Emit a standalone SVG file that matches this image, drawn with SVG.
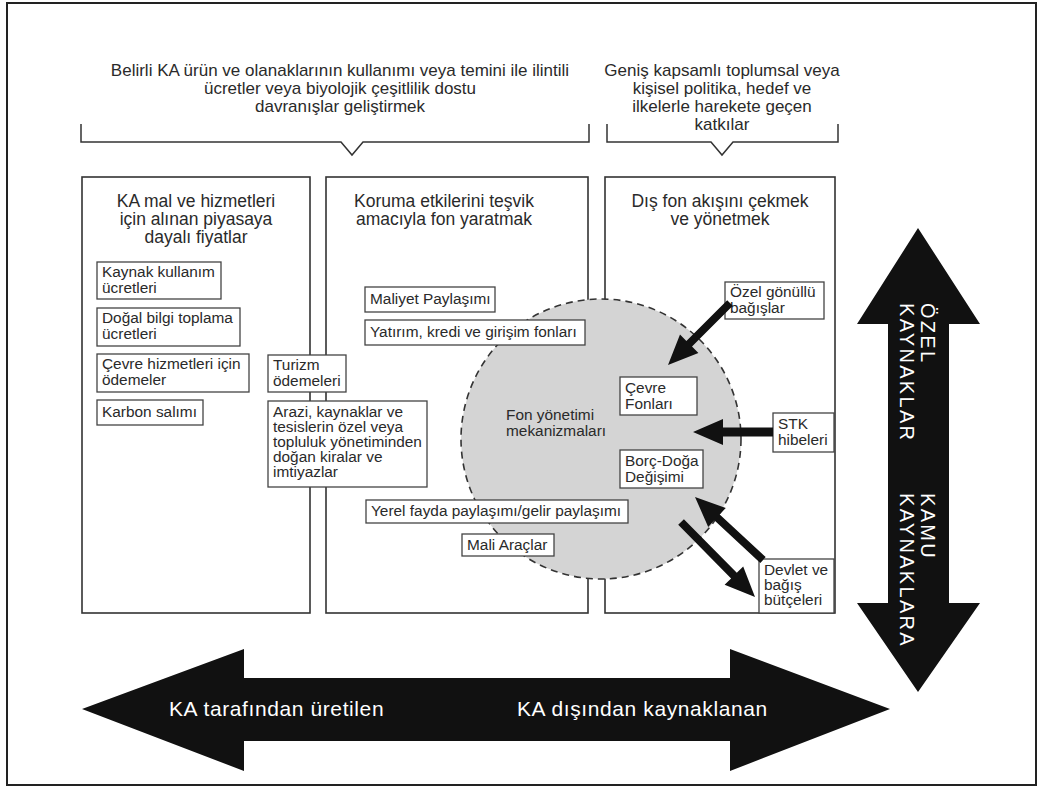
<svg xmlns="http://www.w3.org/2000/svg" width="1038" height="791" viewBox="0 0 1038 791">
<style>
text{font-family:"Liberation Sans",Arial,sans-serif;fill:#2a2a2a}
.top{font-size:17px;text-anchor:middle}
.ttl{font-size:17.5px;text-anchor:middle}
.bx{font-size:15.4px}
.col{fill:#fff;stroke:#333;stroke-width:1.6}
.box{fill:#fff;stroke:#444;stroke-width:1.3}
.brk{fill:none;stroke:#333;stroke-width:1.5}
.blk{fill:#111}
.wt{fill:#fff;font-size:21px;letter-spacing:0.6px}
.vt{fill:#fff;font-size:20px;letter-spacing:2.3px}
</style>
<rect x="7" y="3" width="1029" height="782" fill="#fff" stroke="#222" stroke-width="2"/>
<g id="header-left">
<text class="top" x="340" y="76">Belirli KA ürün ve olanaklarının kullanımı veya temini ile ilintili</text>
<text class="top" x="340" y="94">ücretler veya biyolojik çeşitlilik dostu</text>
<text class="top" x="340" y="112">davranışlar geliştirmek</text>
<path class="brk" d="M81,124 V142 H341 L352,155 L363,142 H589 V124"/>
</g>
<g id="header-right">
<text class="top" x="722" y="76">Geniş kapsamlı toplumsal veya</text>
<text class="top" x="722" y="94">kişisel politika, hedef ve</text>
<text class="top" x="722" y="112">ilkelerle harekete geçen</text>
<text class="top" x="722" y="130">katkılar</text>
<path class="brk" d="M607,124 V142 H711 L722,155 L733,142 H838 V124"/>
</g>
<g id="col-left">
<rect class="col" x="82" y="177" width="228" height="436"/>
<text class="ttl" x="196" y="207">KA mal ve hizmetleri</text>
<text class="ttl" x="196" y="225">için alınan piyasaya</text>
<text class="ttl" x="196" y="243">dayalı fiyatlar</text>
</g>
<g id="col-mid">
<rect class="col" x="326" y="177" width="262" height="436"/>
<text class="ttl" x="444" y="207">Koruma etkilerini teşvik</text>
<text class="ttl" x="444" y="225">amacıyla fon yaratmak</text>
</g>
<g id="col-right">
<rect class="col" x="605" y="177" width="230" height="436"/>
<text class="ttl" x="720" y="207">Dış fon akışını çekmek</text>
<text class="ttl" x="720" y="225">ve yönetmek</text>
</g>
<g id="fund-mechanism">
<circle cx="601" cy="439" r="140" fill="#d4d4d4" stroke="#333" stroke-width="1.6" stroke-dasharray="7 5"/>
<text class="bx" x="506" y="420">Fon yönetimi</text>
<text class="bx" x="506" y="436">mekanizmaları</text>
</g>
<g id="n-kaynak"><rect class="box" x="97" y="262" width="124" height="37"/><text class="bx" x="102" y="277">Kaynak kullanım</text><text class="bx" x="102" y="293">ücretleri</text></g>
<g id="n-dogal"><rect class="box" x="97" y="308" width="143" height="38"/><text class="bx" x="102" y="323">Doğal bilgi toplama</text><text class="bx" x="102" y="339">ücretleri</text></g>
<g id="n-cevre-hizmet"><rect class="box" x="97" y="354" width="152" height="38"/><text class="bx" x="102" y="369">Çevre hizmetleri için</text><text class="bx" x="102" y="385">ödemeler</text></g>
<g id="n-karbon"><rect class="box" x="97" y="400" width="106" height="25"/><text class="bx" x="102" y="417">Karbon salımı</text></g>
<g id="n-turizm"><rect class="box" x="268" y="355" width="78" height="37"/><text class="bx" x="273" y="370">Turizm</text><text class="bx" x="273" y="386">ödemeleri</text></g>
<g id="n-arazi"><rect class="box" x="268" y="401" width="159" height="86"/>
<text class="bx" x="273" y="417">Arazi, kaynaklar ve</text>
<text class="bx" x="273" y="432">tesislerin özel veya</text>
<text class="bx" x="273" y="447">topluluk yönetiminden</text>
<text class="bx" x="273" y="462">doğan kiralar ve</text>
<text class="bx" x="273" y="477">imtiyazlar</text></g>
<g id="n-maliyet"><rect class="box" x="365" y="287" width="130" height="25"/><text class="bx" x="370" y="304">Maliyet Paylaşımı</text></g>
<g id="n-yatirim"><rect class="box" x="365" y="320" width="220" height="25"/><text class="bx" x="370" y="337">Yatırım, kredi ve girişim fonları</text></g>
<g id="n-yerel"><rect class="box" x="366" y="500" width="262" height="23"/><text class="bx" x="371" y="516">Yerel fayda paylaşımı/gelir paylaşımı</text></g>
<g id="n-mali"><rect class="box" x="462" y="534" width="92" height="22"/><text class="bx" x="467" y="550">Mali Araçlar</text></g>
<g id="n-ozel"><rect class="box" x="725" y="282" width="99" height="37"/><text class="bx" x="730" y="297">Özel gönüllü</text><text class="bx" x="730" y="313">bağışlar</text></g>
<g id="n-cevre-fon"><rect class="box" x="620" y="377" width="77" height="38"/><text class="bx" x="625" y="393">Çevre</text><text class="bx" x="625" y="409">Fonları</text></g>
<g id="n-stk"><rect class="box" x="773" y="413" width="61" height="39"/><text class="bx" x="778" y="429">STK</text><text class="bx" x="778" y="445">hibeleri</text></g>
<g id="n-borc"><rect class="box" x="620" y="450" width="83" height="38"/><text class="bx" x="625" y="466">Borç-Doğa</text><text class="bx" x="625" y="482">Değişimi</text></g>
<g id="n-devlet"><rect class="box" x="759" y="559" width="75" height="54"/><text class="bx" x="764" y="575">Devlet ve</text><text class="bx" x="764" y="590">bağış</text><text class="bx" x="764" y="605">bütçeleri</text></g>
<g id="connectors">
<polygon class="blk" points="732.8,305.8 692,346.6 698.4,353 668,365 680,334.6 686.4,341 727.2,300.2"/>
<polygon class="blk" points="773,436.5 723,436.5 723,445 693,432 723,419 723,427.5 773,427.5"/>
<polygon class="blk" points="765.7,557.1 719.7,514.5 725.8,507.9 695,497 708.2,526.9 714.3,520.3 760.3,562.9"/>
<polygon class="blk" points="678.2,524.8 731.1,578.4 724.6,584.7 755,597 743.2,566.5 736.8,572.8 683.9,519.2"/>
</g>
<g id="axis-vertical">
<polygon class="blk" points="918,228 980,324 949,324 949,603 980,603 918,692 857,603 888,603 888,324 857,324"/>
<g transform="translate(921,303) rotate(90)"><text class="vt" x="0" y="0">ÖZEL</text><text class="vt" x="0" y="21">KAYNAKLAR</text></g>
<g transform="translate(921,493) rotate(90)"><text class="vt" x="0" y="0">KAMU</text><text class="vt" x="0" y="21">KAYNAKLARA</text></g>
</g>
<g id="axis-horizontal">
<polygon class="blk" points="82,709 244,649 244,678 730,678 730,649 890,709 730,771 730,741 244,741 244,771"/>
<text class="wt" x="169" y="716">KA tarafından üretilen</text>
<text class="wt" x="517" y="716">KA dışından kaynaklanan</text>
</g>
</svg>
